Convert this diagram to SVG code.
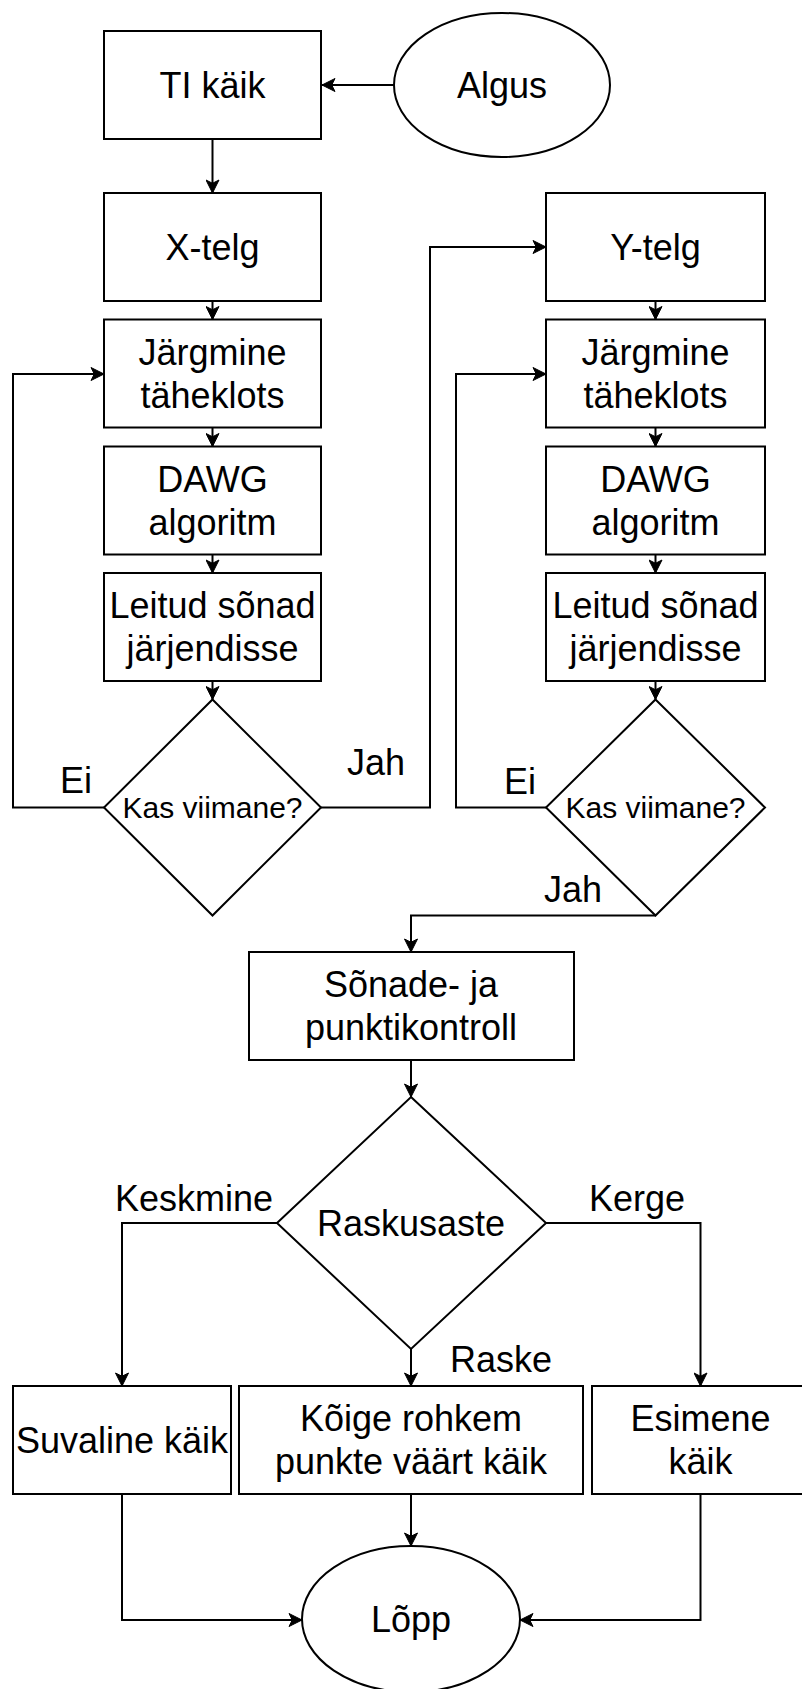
<svg xmlns="http://www.w3.org/2000/svg" width="802" height="1689" viewBox="0 0 802 1689">
  <style>
    .shape { fill: #ffffff; stroke: #000000; stroke-width: 2; }
    .edge { fill: none; stroke: #000000; stroke-width: 2; marker-end: url(#arrow); }
    text { font-family: "Liberation Sans", Arial, Helvetica, sans-serif; fill: #000000; }
    .t { font-size: 36px; text-anchor: middle; }
    .q { font-size: 30px; text-anchor: middle; }
    .lbl { font-size: 36px; text-anchor: start; }
  </style>
  <defs>
    <marker id="arrow" viewBox="-14 -7 15 14" refX="0" refY="0" markerWidth="15" markerHeight="14" markerUnits="userSpaceOnUse" orient="auto">
      <path d="M0,0 L-13,-6.5 L-9.75,0 L-13,6.5 Z" fill="#000000" stroke="#000000" stroke-width="1"/>
    </marker>
  </defs>
  <rect width="802" height="1689" fill="#ffffff"/>

  <!-- connectors -->
  <g id="connectors">
    <path class="edge" d="M394,85 L322,85"/>
    <path class="edge" d="M212.5,139 L212.5,193"/>
    <path class="edge" d="M212.5,301 L212.5,319.5"/>
    <path class="edge" d="M212.5,427.5 L212.5,446.5"/>
    <path class="edge" d="M212.5,554.5 L212.5,573"/>
    <path class="edge" d="M212.5,681 L212.5,699.5"/>
    <path class="edge" d="M104,807.5 L13,807.5 L13,374 L104,374"/>
    <path class="edge" d="M321,807.5 L430,807.5 L430,247 L546,247"/>

    <path class="edge" d="M655.5,301 L655.5,319.5"/>
    <path class="edge" d="M655.5,427.5 L655.5,446.5"/>
    <path class="edge" d="M655.5,554.5 L655.5,573"/>
    <path class="edge" d="M655.5,681 L655.5,699.5"/>
    <path class="edge" d="M546,807.5 L456,807.5 L456,374 L546,374"/>
    <path class="edge" d="M655.5,915.5 L411,915.5 L411,952"/>

    <path class="edge" d="M411,1060 L411,1097"/>
    <path class="edge" d="M277,1223 L122,1223 L122,1386"/>
    <path class="edge" d="M546,1223 L700.5,1223 L700.5,1386"/>
    <path class="edge" d="M411,1349 L411,1386"/>
    <path class="edge" d="M122,1494 L122,1620 L302,1620"/>
    <path class="edge" d="M411,1494 L411,1546"/>
    <path class="edge" d="M700.5,1494 L700.5,1620 L520,1620"/>

    <text class="lbl" x="60" y="793">Ei</text>
    <text class="lbl" x="347" y="775">Jah</text>
    <text class="lbl" x="504" y="794">Ei</text>
    <text class="lbl" x="544" y="902">Jah</text>
    <text class="lbl" x="115" y="1211">Keskmine</text>
    <text class="lbl" x="589" y="1211">Kerge</text>
    <text class="lbl" x="450" y="1372">Raske</text>
  </g>

  <!-- start -->
  <g id="algus">
    <ellipse class="shape" cx="502" cy="85" rx="108" ry="72"/>
    <text class="t" x="502" y="97.6">Algus</text>
  </g>
  <g id="ti-kaik">
    <rect class="shape" x="104" y="31" width="217" height="108"/>
    <text class="t" x="212.5" y="97.6">TI käik</text>
  </g>

  <!-- X axis column -->
  <g id="x-telg">
    <rect class="shape" x="104" y="193" width="217" height="108"/>
    <text class="t" x="212.5" y="259.6">X-telg</text>
  </g>
  <g id="x-jargmine">
    <rect class="shape" x="104" y="319.5" width="217" height="108"/>
    <text class="t" x="212.5" y="364.5">Järgmine</text>
    <text class="t" x="212.5" y="407.7">täheklots</text>
  </g>
  <g id="x-dawg">
    <rect class="shape" x="104" y="446.5" width="217" height="108"/>
    <text class="t" x="212.5" y="491.5">DAWG</text>
    <text class="t" x="212.5" y="534.7">algoritm</text>
  </g>
  <g id="x-leitud">
    <rect class="shape" x="104" y="573" width="217" height="108"/>
    <text class="t" x="212.5" y="618">Leitud sõnad</text>
    <text class="t" x="212.5" y="661.2">järjendisse</text>
  </g>
  <g id="x-viimane">
    <polygon class="shape" points="212.5,699.5 321,807.5 212.5,915.5 104,807.5"/>
    <text class="q" x="212.5" y="818">Kas viimane?</text>
  </g>

  <!-- Y axis column -->
  <g id="y-telg">
    <rect class="shape" x="546" y="193" width="219" height="108"/>
    <text class="t" x="655.5" y="259.6">Y-telg</text>
  </g>
  <g id="y-jargmine">
    <rect class="shape" x="546" y="319.5" width="219" height="108"/>
    <text class="t" x="655.5" y="364.5">Järgmine</text>
    <text class="t" x="655.5" y="407.7">täheklots</text>
  </g>
  <g id="y-dawg">
    <rect class="shape" x="546" y="446.5" width="219" height="108"/>
    <text class="t" x="655.5" y="491.5">DAWG</text>
    <text class="t" x="655.5" y="534.7">algoritm</text>
  </g>
  <g id="y-leitud">
    <rect class="shape" x="546" y="573" width="219" height="108"/>
    <text class="t" x="655.5" y="618">Leitud sõnad</text>
    <text class="t" x="655.5" y="661.2">järjendisse</text>
  </g>
  <g id="y-viimane">
    <polygon class="shape" points="655.5,699.5 765,807.5 655.5,915.5 546,807.5"/>
    <text class="q" x="655.5" y="818">Kas viimane?</text>
  </g>

  <!-- scoring and difficulty -->
  <g id="kontroll">
    <rect class="shape" x="249" y="952" width="325" height="108"/>
    <text class="t" x="411" y="997">Sõnade- ja</text>
    <text class="t" x="411" y="1040.2">punktikontroll</text>
  </g>
  <g id="raskusaste">
    <polygon class="shape" points="411,1097 546,1223 411,1349 277,1223"/>
    <text class="t" x="411" y="1235.6">Raskusaste</text>
  </g>

  <!-- move choices -->
  <g id="suvaline">
    <rect class="shape" x="13" y="1386" width="218" height="108"/>
    <text class="t" x="122" y="1452.6">Suvaline käik</text>
  </g>
  <g id="rohkem">
    <rect class="shape" x="239" y="1386" width="344" height="108"/>
    <text class="t" x="411" y="1431">Kõige rohkem</text>
    <text class="t" x="411" y="1474.2">punkte väärt käik</text>
  </g>
  <g id="esimene">
    <rect class="shape" x="592" y="1386" width="218" height="108"/>
    <text class="t" x="700.5" y="1431">Esimene</text>
    <text class="t" x="700.5" y="1474.2">käik</text>
  </g>

  <!-- end -->
  <g id="lopp">
    <ellipse class="shape" cx="411" cy="1619" rx="109" ry="73"/>
    <text class="t" x="411" y="1631.6">Lõpp</text>
  </g>
</svg>
